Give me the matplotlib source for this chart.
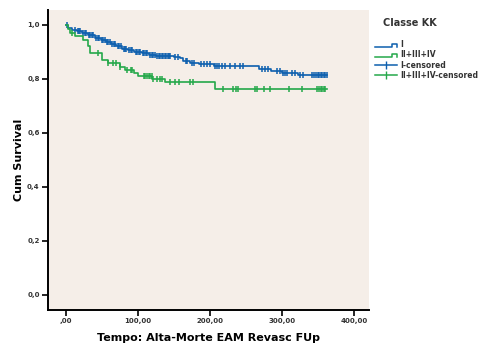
import numpy as np
import matplotlib
matplotlib.use('Agg')
import matplotlib.pyplot as plt
from matplotlib.legend_handler import HandlerBase
from matplotlib.lines import Line2D

# Kaplan-Meier steps: (time, survival after the step)
blue_t = [0, 3, 8, 15, 22, 30, 40, 48, 55, 62, 70, 78, 86, 95, 105, 115, 125,
          150, 158, 163, 172, 185, 205, 268, 285, 300, 322]
blue_s = [1.0, 0.99, 0.982, 0.976, 0.97, 0.962, 0.952, 0.943, 0.935, 0.928,
          0.92, 0.912, 0.906, 0.9, 0.895, 0.89, 0.885, 0.882, 0.876, 0.866,
          0.86, 0.855, 0.848, 0.838, 0.83, 0.822, 0.815]
blue_end = 363
blue_cens = [2, 12, 16, 18, 20, 24, 26, 28, 32, 34, 36, 38, 42, 44, 46, 50, 52,
             54, 57, 59, 61, 64, 66, 68, 72, 74, 76, 80, 82, 84, 88, 90, 92, 97,
             99, 101, 103, 107, 109, 111, 113, 117, 119, 121, 123, 127, 129,
             131, 133, 135, 137, 139, 141, 143, 145, 152, 155, 166, 168, 175,
             178, 188, 192, 196, 200, 207, 210, 213, 216, 221, 228, 235, 242,
             246, 272, 276, 281, 293, 297, 301, 304, 307, 314, 318, 325, 329,
             341, 344, 347, 350, 352, 354, 356, 358, 360, 362]

green_t = [0, 3, 6, 12, 24, 30, 33, 50, 58, 75, 82, 95, 100, 120, 138, 207]
green_s = [1.0, 0.985, 0.97, 0.957, 0.944, 0.92, 0.896, 0.87, 0.858, 0.845,
           0.833, 0.82, 0.812, 0.8, 0.79, 0.762]
green_end = 362
green_cens = [8, 45, 58, 65, 70, 75, 85, 90, 92, 108, 110, 112, 115, 117, 119,
              121, 126, 130, 134, 144, 151, 157, 172, 176, 218, 232, 236, 239,
              262, 265, 275, 283, 310, 328, 349, 352, 354, 356, 358, 360]

yticks = [0.0, 0.2, 0.4, 0.6, 0.8, 1.0]
ytick_labels = ['0,0', '0,2', '0,4', '0,6', '0,8', '1,0']
xticks = [0, 100, 200, 300, 400]
xtick_labels = [',00', '100,00', '200,00', '300,00', '400,00']

BLUE = '#0D5FAE'
GREEN = '#25A84A'
BG = '#F5EEE8'


def km(ax, t, s, end, cens, color):
    t = np.array(t + [end])
    s = np.array(s + [s[-1]])
    ax.step(t, s, where='post', color=color, lw=1.2)
    c = np.array(cens)
    idx = np.searchsorted(t, c, side='right') - 1
    ax.plot(c, s[idx], ls='none', marker='|', ms=4.5, mew=1.1, color=color)


class StepHandler(HandlerBase):
    def create_artists(self, legend, orig, xd, yd, w, h, fontsize, trans):
        xs = [xd, xd + 0.75 * w, xd + 0.75 * w, xd + w, xd + w]
        ys = [yd + 0.2 * h, yd + 0.2 * h, yd + 0.8 * h, yd + 0.8 * h, yd + 0.2 * h]
        ln = Line2D(xs, ys, color=orig.get_color(), lw=1.1, transform=trans)
        return [ln]


fig = plt.figure(figsize=(4.8, 3.46), dpi=100)
ax = fig.add_axes([0.1, 0.104, 0.669, 0.867])
ax.set_facecolor(BG)

km(ax, blue_t, blue_s, blue_end, blue_cens, BLUE)
km(ax, green_t, green_s, green_end, green_cens, GREEN)

ax.set_xlim(-25, 421)
ax.set_ylim(-0.056, 1.055)
ax.set_xticks(xticks)
ax.set_xticklabels(xtick_labels)
ax.set_yticks(yticks)
ax.set_yticklabels(ytick_labels)
ax.tick_params(labelsize=5, width=1.2, length=4, pad=2)
for lab in ax.get_xticklabels() + ax.get_yticklabels():
    lab.set_fontweight('bold')
    lab.set_color('#333333')
ax.spines['top'].set_visible(False)
ax.spines['right'].set_visible(False)
ax.spines['left'].set_linewidth(1.4)
ax.spines['bottom'].set_linewidth(1.4)

ax.set_ylabel('Cum Survival', fontsize=8, fontweight='bold', labelpad=2)
ax.set_xlabel('Tempo: Alta-Morte EAM Revasc FUp', fontsize=8, fontweight='bold', labelpad=6)

fig.text(410 / 480, 1 - 23 / 346, 'Classe KK', fontsize=7, fontweight='bold',
         ha='center', va='center', color='#333333')

h1 = Line2D([], [], color=BLUE)
h2 = Line2D([], [], color=GREEN)
h3 = Line2D([], [], color=BLUE, marker='|', ms=6, lw=1.1)
h4 = Line2D([], [], color=GREEN, marker='|', ms=6, lw=1.1)
leg = fig.legend([h1, h2, h3, h4], ['I', 'II+III+IV', 'I-censored', 'II+III+IV-censored'],
                 loc='upper left', bbox_to_anchor=(0.77, 1 - 35 / 346), frameon=False,
                 fontsize=5.5, handlelength=2.9, handleheight=0.6,
                 handletextpad=0.35, labelspacing=0.15, borderpad=0.2,
                 handler_map={h1: StepHandler(), h2: StepHandler()})
for txt in leg.get_texts():
    txt.set_fontweight('bold')
    txt.set_color('#333333')

fig.savefig('out.png', dpi=100)
